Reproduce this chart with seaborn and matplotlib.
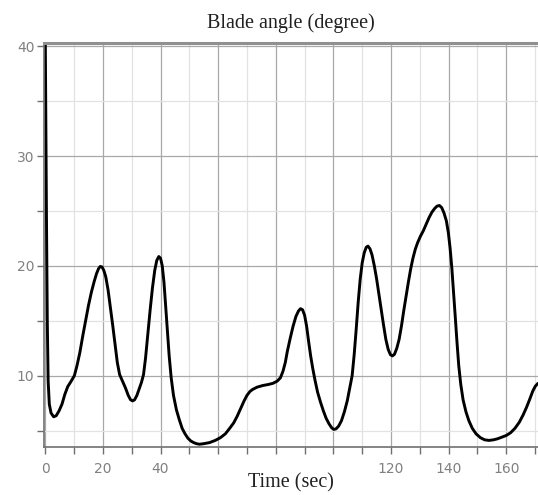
import numpy as np
import pandas as pd
import matplotlib
matplotlib.use("Agg")
import matplotlib.pyplot as plt
import seaborn as sns
from matplotlib.ticker import MultipleLocator

# Datos: tiempo (s) y ángulo de pala (grados)
tiempo = [0, 0.4, 0.7, 1.0, 1.4, 2.0, 2.9, 3.8, 4.8, 5.8, 6.8, 7.8, 9.0, 10.1, 11.0,
          12.0, 13.0, 14.0, 15.0, 16.0, 17.0, 17.8, 18.5, 19.1, 19.7, 20.3, 21.0,
          21.8, 22.6, 23.4, 24.2, 25.0, 25.8, 26.8, 27.8, 28.8, 29.6, 30.3, 31.0,
          31.8, 32.6, 33.4, 34.1, 34.8, 35.6, 36.4, 37.2, 38.0, 38.7, 39.4, 40.0,
          40.6, 41.2, 41.8, 42.4, 43.0, 43.7, 44.5, 45.5, 46.5, 47.5, 48.5, 49.5,
          50.5, 51.5, 52.5, 53.5, 55.0, 57.0, 59.0, 60.8, 62.5, 64.0, 65.4, 66.6,
          67.8, 69.0, 70.0, 71.0, 72.0, 73.5, 75.5, 77.5, 79.0, 80.5, 81.6, 82.5,
          83.3, 84.0, 85.0, 86.0, 87.0, 87.9, 88.6, 89.3, 90.0, 90.7, 91.4, 92.1,
          92.8, 93.6, 94.5, 95.5, 96.5, 97.5, 98.5, 99.4, 100.1, 100.9, 101.8,
          102.8, 103.8, 104.8, 105.7, 106.5, 107.2, 107.9, 108.6, 109.3, 110.0,
          110.7, 111.4, 112.0, 112.7, 113.4, 114.2, 115.0, 115.8, 116.6, 117.4,
          118.2, 119.0, 119.8, 120.5, 121.2, 122.0, 122.8, 123.6, 124.4, 125.2,
          126.0, 126.8, 127.6, 128.4, 129.2, 130.2, 131.2, 132.2, 133.2, 134.2,
          135.2, 136.0, 136.8, 137.6, 138.4, 139.2, 139.9, 140.5, 141.1, 141.7,
          142.3, 142.9, 143.5, 144.2, 145.0, 146.0, 147.0, 148.2, 149.5, 151.0,
          152.5, 154.0, 155.5, 157.0, 158.5, 160.0, 161.5, 163.0, 164.5, 165.8,
          167.0, 168.2, 169.2, 170.1, 171.0]
angulo = [41, 25, 15, 9.5, 7.4, 6.6, 6.25, 6.35, 6.8, 7.4, 8.3, 9.0, 9.5, 10.0, 10.9,
          12.1, 13.6, 15.0, 16.4, 17.6, 18.6, 19.3, 19.75, 19.95, 19.9, 19.6, 19.0,
          17.8, 16.2, 14.6, 12.9, 11.2, 10.1, 9.5, 8.9, 8.2, 7.8, 7.7, 7.8,
          8.2, 8.8, 9.4, 10.1, 11.6, 13.8, 16.0, 18.0, 19.6, 20.5, 20.85, 20.7,
          20.0, 18.5, 16.3, 14.0, 11.8, 9.8, 8.2, 6.9, 6.0, 5.2, 4.7, 4.3,
          4.05, 3.9, 3.8, 3.75, 3.8, 3.9, 4.1, 4.35, 4.7, 5.2, 5.7, 6.3,
          7.0, 7.7, 8.2, 8.55, 8.75, 8.95, 9.1, 9.2, 9.3, 9.5, 9.8, 10.4,
          11.2, 12.2, 13.4, 14.5, 15.4, 15.9, 16.1, 16.0, 15.5, 14.5, 13.1, 11.8,
          10.7, 9.6, 8.5, 7.6, 6.8, 6.1, 5.6, 5.25, 5.1, 5.15, 5.4,
          5.9, 6.7, 7.7, 8.9, 10.0, 11.9, 14.2, 16.7, 18.8, 20.3,
          21.2, 21.7, 21.8, 21.55, 21.0, 20.0, 18.8, 17.4, 16.0, 14.6,
          13.3, 12.4, 11.9, 11.8, 11.95, 12.5, 13.3, 14.5, 15.9, 17.2,
          18.5, 19.7, 20.7, 21.5, 22.1, 22.7, 23.2, 23.8, 24.4, 24.9,
          25.25, 25.45, 25.5, 25.3, 24.8, 24.1, 23.0, 21.6, 19.8, 17.6,
          15.3, 13.0, 10.9, 9.2, 7.8, 6.7, 5.9, 5.2, 4.7, 4.35,
          4.15, 4.1, 4.15, 4.25, 4.4, 4.55, 4.8, 5.2, 5.75, 6.4,
          7.1, 7.9, 8.6, 9.05, 9.3]

xticks = [0, 20, 40, 60, 80, 100, 120, 140, 160]
xtick_labels = ["0", "20", "40", "", "", "", "120", "140", "160"]
yticks = [10, 20, 30, 40]

df = pd.DataFrame({"t": tiempo, "ang": angulo})

sns.set_style("white")
fig = plt.figure(figsize=(5.38, 4.95), dpi=100)
ax = fig.add_axes([0.082, 0.097, 0.918, 0.816])

sns.lineplot(data=df, x="t", y="ang", sort=False, estimator=None,
             color="black", lw=2.1, ax=ax)

ax.set_xlim(-0.4, 171)
ax.set_ylim(3.5, 40.3)
ax.set_xticks(xticks)
ax.set_xticklabels(xtick_labels)
ax.set_yticks(yticks)
ax.xaxis.set_minor_locator(MultipleLocator(10))
ax.yaxis.set_minor_locator(MultipleLocator(5))

ax.grid(which="major", color="#a8a8a8", lw=0.9)
ax.grid(which="minor", color="#e2e2e2", lw=0.9)
ax.set_axisbelow(True)

ax.tick_params(which="both", direction="out", length=5, width=1, color="#707070",
               labelcolor="#808080", labelsize=10, bottom=True, left=True)
ax.tick_params(axis="x", pad=6)
ax.tick_params(axis="y", pad=2)

for s in ["left", "bottom"]:
    ax.spines[s].set_color("#707070")
    ax.spines[s].set_linewidth(1.2)
ax.spines["top"].set_color("#909090")
ax.spines["top"].set_linewidth(2.2)
ax.spines["right"].set_visible(False)

ax.set_xlabel("Time (sec)", family="Liberation Serif", fontsize=14.5, color="#202020",
              labelpad=-2)
ax.set_ylabel("")
ax.set_title("Blade angle (degree)", family="Liberation Serif", fontsize=14.5,
             color="#202020", pad=11)

fig.savefig("out.png", dpi=100)
